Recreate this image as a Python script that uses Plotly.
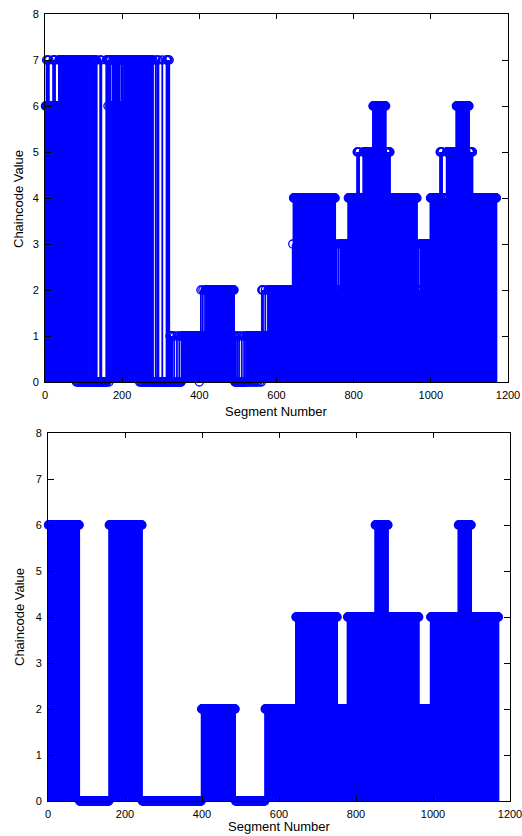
import numpy as np
import plotly.graph_objects as go

# ---------------- data (run-length encoded chaincode: (value, run length)) -------------
top_runs = [
    # 1-80 : 6/7
    (6, 3), (7, 1), (6, 2), (7, 1), (6, 2), (7, 1), (6, 2),
    (6, 8),
    (7, 1), (6, 1), (7, 2), (6, 1), (7, 1), (6, 2),
    (6, 7),
    (7, 3), (6, 1), (7, 2), (6, 1), (7, 4), (6, 1), (7, 3), (6, 1), (7, 5), (6, 1),
    (7, 2), (6, 1), (7, 4), (6, 1), (7, 3), (6, 1), (7, 6), (6, 1), (7, 4),
    # 81-170 : 7/0
    (0, 1), (7, 2), (0, 1), (7, 1), (0, 2), (7, 2), (0, 1), (7, 1), (0, 1), (7, 2),
    (0, 2), (7, 1), (0, 1), (7, 2), (0, 1), (7, 1), (0, 2), (7, 2), (0, 1), (7, 1),
    (0, 1), (7, 2), (0, 2), (7, 1), (0, 1), (7, 2), (0, 1), (7, 1), (0, 2), (7, 2),
    (0, 1), (7, 1), (0, 2), (7, 2), (0, 1), (7, 1), (0, 2), (7, 1),
    (0, 8), (7, 1), (0, 2), (7, 1), (0, 12),
    (7, 2), (0, 1), (7, 1), (6, 1), (7, 2), (0, 1), (7, 1), (6, 1), (7, 2),
    # 171-244 : 6/7
    (6, 5),
    (7, 2), (6, 1), (7, 3), (6, 1), (7, 2), (6, 1), (7, 3), (6, 1), (7, 2), (6, 1), (7, 1),
    (6, 4), (7, 4), (6, 3),
    (7, 3), (6, 1), (7, 2), (6, 1), (7, 4), (6, 1), (7, 3), (6, 1), (7, 2), (6, 1),
    (7, 3), (6, 1), (7, 4), (6, 1), (7, 3), (6, 1), (7, 4), (6, 1), (7, 3),
    # 245-323 : 7/0
    (0, 1), (7, 2), (0, 1), (7, 1), (0, 2), (7, 2), (0, 1), (7, 1), (0, 1), (7, 2),
    (0, 2), (7, 1), (0, 1), (7, 2), (0, 1), (7, 1), (0, 2), (7, 2), (0, 1), (7, 1),
    (0, 1), (7, 2), (0, 1), (7, 1), (0, 2), (7, 1),
    (0, 6), (7, 1), (0, 3), (7, 1), (0, 2), (7, 1), (0, 9), (7, 1), (0, 10),
    (7, 2), (0, 1), (7, 2), (0, 2), (7, 1), (0, 1),
    # 324-400 : 0/1
    (1, 2), (0, 1), (1, 1), (0, 1), (1, 2),
    (0, 4), (1, 1), (0, 6), (1, 1), (0, 5), (1, 1), (0, 5),
    (1, 46), (0, 1),
    # 401-490 : 1/2
    (1, 3), (2, 1), (1, 4), (2, 1), (1, 5),
    (2, 3), (1, 1), (2, 2), (1, 1), (2, 4), (1, 1), (2, 3), (1, 1), (2, 5), (1, 1),
    (2, 2), (1, 1), (2, 4), (1, 1), (2, 3), (1, 1), (2, 5), (1, 1), (2, 3), (1, 1),
    (2, 4), (1, 1), (2, 3), (1, 1), (2, 4), (1, 1), (2, 5), (1, 1), (2, 3),
    (1, 1), (2, 4), (1, 1), (2, 3),
    # 491-561 : 0/1
    (1, 1), (0, 2), (1, 1), (0, 3), (1, 1), (0, 4), (1, 1), (0, 6), (1, 1), (0, 5),
    (1, 1), (0, 4),
    (1, 2), (0, 1), (1, 3), (0, 1), (1, 2), (0, 1), (1, 4), (0, 1), (1, 2), (0, 1),
    (1, 3), (0, 1), (1, 2), (0, 1), (1, 3), (0, 1), (1, 2), (0, 1), (1, 4), (0, 1),
    (1, 3), (0, 1),
    # 562-643 : 1/2
    (2, 2), (1, 1), (2, 1),
    (1, 5), (2, 1), (1, 6),
    (2, 4), (1, 1), (2, 5), (1, 1), (2, 3), (1, 1), (2, 6), (1, 1), (2, 4), (1, 1),
    (2, 5), (1, 1), (2, 3), (1, 1), (2, 6), (1, 1), (2, 4), (1, 1), (2, 5), (1, 1),
    (2, 4), (1, 1), (2, 4),
    (3, 1), (2, 1),
    # 644-752 : 3/4
    (4, 12), (3, 1), (4, 15), (3, 1), (4, 20), (3, 1), (4, 18), (3, 1), (4, 14), (3, 1),
    (4, 20), (3, 1), (4, 4),
    # 753-785 : 2/3
    (2, 3), (3, 1), (2, 4), (3, 1), (2, 4),
    (3, 3), (2, 1), (3, 4), (2, 1), (3, 5), (2, 1), (3, 5),
    # 786-964 : 4/5/6
    (4, 8), (3, 1), (4, 14),
    (5, 2), (4, 1), (5, 1), (4, 1), (5, 1), (4, 2),
    (4, 8),
    (5, 3), (4, 1), (5, 4), (4, 1), (5, 5), (4, 1), (5, 4), (4, 1), (5, 5),
    (6, 5), (5, 1), (6, 8), (5, 1), (6, 10), (5, 1), (6, 8),
    (5, 4), (4, 1), (5, 3), (4, 1), (5, 2),
    (4, 20), (3, 1), (4, 25), (3, 1), (4, 23),
    # 965-998 : 2/3
    (2, 3), (3, 1), (2, 4),
    (3, 4), (2, 1), (3, 6), (2, 1), (3, 5), (2, 1), (3, 6), (2, 2),
    # 999-1170 : 4/5/6
    (4, 10), (3, 1), (4, 14),
    (5, 2), (4, 1), (5, 3),
    (4, 11),
    (5, 4), (4, 1), (5, 5), (4, 1), (5, 6), (4, 1), (5, 7),
    (6, 4), (5, 1), (6, 9), (5, 1), (6, 10), (5, 1), (6, 8),
    (5, 3), (4, 1), (5, 2), (4, 1), (5, 2),
    (4, 15), (3, 1), (4, 20), (3, 1), (4, 25),
]

bottom_runs = [
    (6, 81), (0, 77), (6, 86), (0, 154), (2, 88), (0, 77), (2, 80), (4, 108),
    (2, 26), (4, 72), (6, 34), (4, 80), (2, 30), (4, 72), (6, 34), (4, 71),
]

x_ticks = [0, 200, 400, 600, 800, 1000, 1200]
y_ticks = [0, 1, 2, 3, 4, 5, 6, 7, 8]
x_label = "Segment Number"
y_label = "Chaincode Value"

# ---------------- build ----------------
def expand(runs):
    vals = np.array([v for v, n in runs], dtype=float)
    cnts = np.array([n for v, n in runs], dtype=int)
    y = np.repeat(vals, cnts)
    x = np.arange(1, len(y) + 1, dtype=float)
    return x, y

BLUE = "#0000ff"
W, H = 522, 836
FONT = "Liberation Sans, Arial, Helvetica, sans-serif"

fig = go.Figure()

def add_stem(x, y, xa, ya):
    nan = np.full_like(x, np.nan)
    xs = np.column_stack([x, x, nan]).ravel()
    ys = np.column_stack([np.zeros_like(y), y, nan]).ravel()
    fig.add_trace(go.Scatter(x=xs, y=ys, mode="lines", xaxis=xa, yaxis=ya,
                             line=dict(color=BLUE, width=1.8), hoverinfo="skip",
                             showlegend=False, connectgaps=False))
    fig.add_trace(go.Scatter(x=x, y=y, mode="markers", xaxis=xa, yaxis=ya,
                             marker=dict(symbol="circle-open", size=8, color=BLUE,
                                         line=dict(color=BLUE, width=1.3)),
                             cliponaxis=False, showlegend=False))

xt, yt = expand(top_runs)
xb, yb = expand(bottom_runs)
add_stem(xt, yt, "x", "y")
add_stem(xb, yb, "x2", "y2")

def px_x(p):
    return p / W

def px_y(p):
    return 1 - p / H

common_x = dict(range=[0, 1200], tickvals=x_ticks, ticks="inside", ticklen=5,
                tickcolor="#000", mirror="ticks", showline=True, linecolor="#000",
                linewidth=1, showgrid=False, zeroline=False, automargin=False,
                ticklabeloverflow="allow",
                tickfont=dict(family=FONT, size=11, color="#000"), ticklabelstandoff=3)
common_y = dict(range=[0, 8], tickvals=y_ticks, ticks="inside", ticklen=6,
                tickcolor="#000", mirror="ticks", showline=True, linecolor="#000",
                linewidth=1, showgrid=False, zeroline=False, automargin=False,
                ticklabeloverflow="allow",
                tickfont=dict(family=FONT, size=11, color="#000"), ticklabelstandoff=3)

LABEL_FONT = dict(family=FONT, size=13, color="#000")

fig.update_layout(
    width=W, height=H,
    margin=dict(l=0, r=0, t=0, b=0, autoexpand=False),
    paper_bgcolor="white", plot_bgcolor="white",
    showlegend=False,
    xaxis=dict(domain=[px_x(45), px_x(508)], anchor="y", **common_x),
    yaxis=dict(domain=[px_y(382), px_y(14)], anchor="x", **common_y),
    xaxis2=dict(domain=[px_x(48), px_x(510)], anchor="y2", **common_x),
    yaxis2=dict(domain=[px_y(801), px_y(433)], anchor="x2", **common_y),
    annotations=[
        dict(text=x_label, xref="paper", yref="paper", x=px_x(276.5), y=px_y(411),
             xanchor="center", yanchor="middle", showarrow=False, font=LABEL_FONT),
        dict(text=y_label, xref="paper", yref="paper", x=px_x(18), y=px_y(199),
             xanchor="center", yanchor="middle", showarrow=False, textangle=-90,
             font=LABEL_FONT),
        dict(text=x_label, xref="paper", yref="paper", x=px_x(279), y=px_y(826.5),
             xanchor="center", yanchor="middle", showarrow=False, font=LABEL_FONT),
        dict(text=y_label, xref="paper", yref="paper", x=px_x(19), y=px_y(617),
             xanchor="center", yanchor="middle", showarrow=False, textangle=-90,
             font=LABEL_FONT),
    ],
)

fig.write_html("out.html",
               config={"displayModeBar": False},
               post_script="document.body.style.margin='0px';"
                           "document.body.style.overflow='hidden';")
